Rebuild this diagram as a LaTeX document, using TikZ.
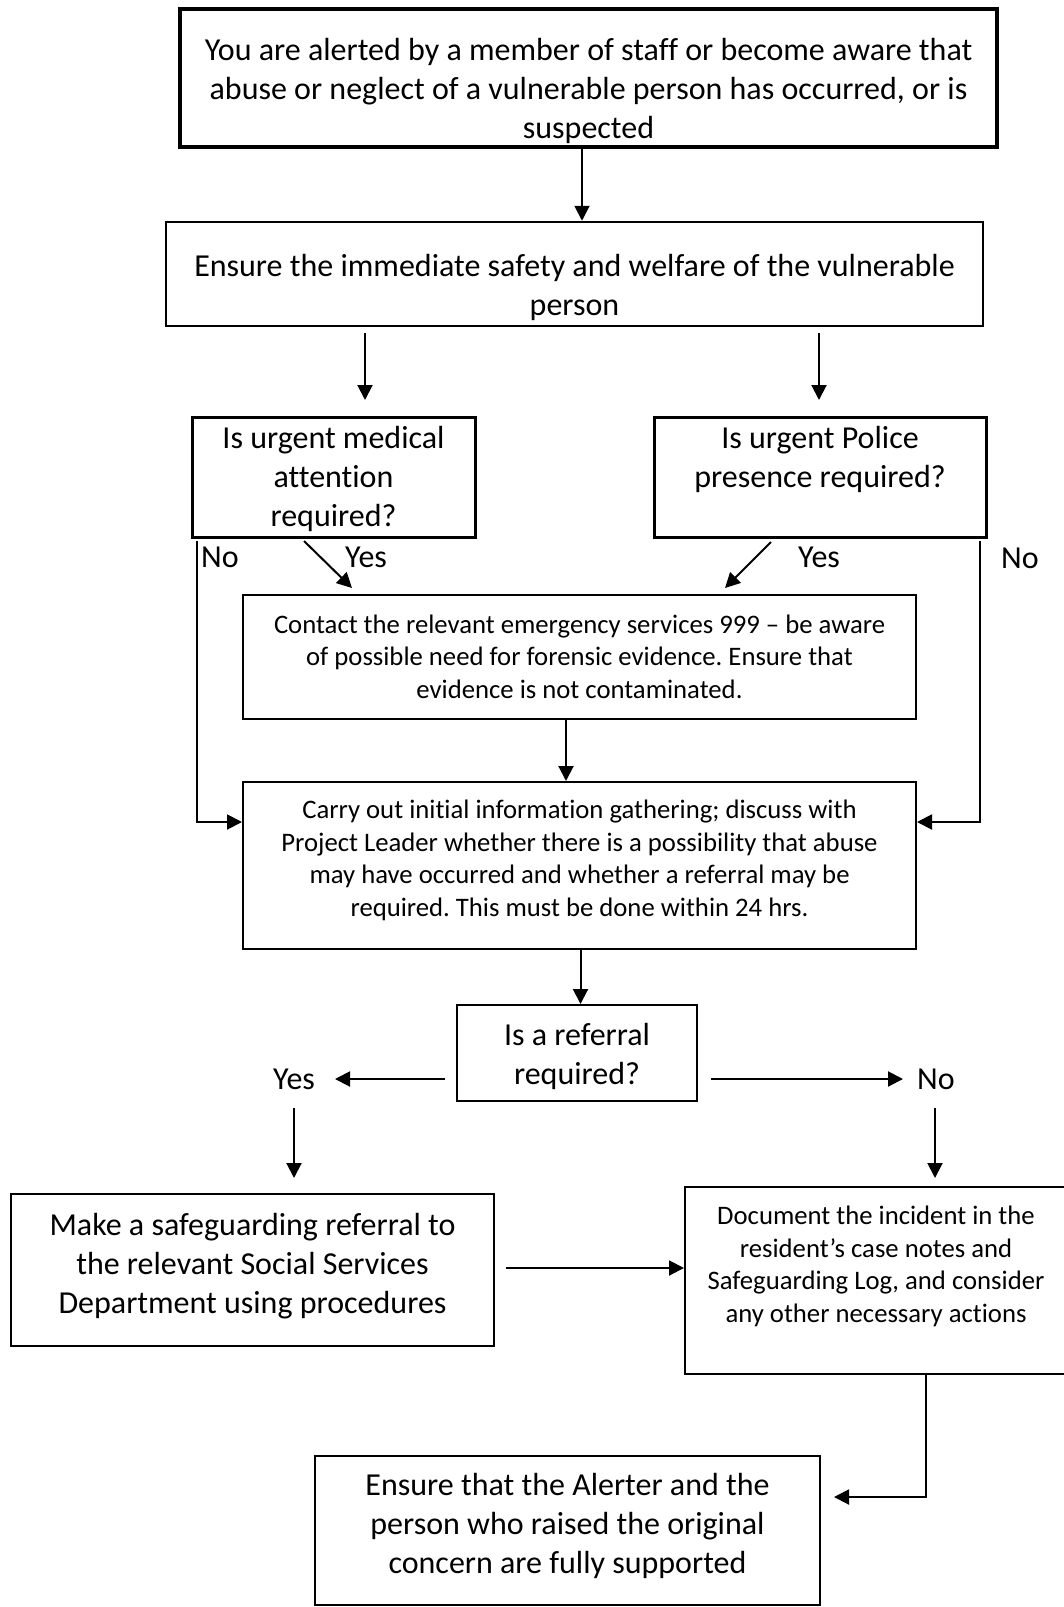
\documentclass[tikz,border=0pt]{standalone}
\usepackage{fontspec}
\setmainfont{Carlito}[Ligatures={NoCommon,NoRare,NoContextual}]
\usetikzlibrary{arrows.meta}
\frenchspacing
\newcommand\fbig{\fontsize{32}{39}\selectfont}
\newcommand\fsmall{\fontsize{26.7}{32.5}\selectfont}
\newcommand\bxbig[4]{\parbox[c][#2][t]{#1}{\fbig\frenchspacing\centering\vspace*{#3}\strut #4}}
\newcommand\bxsmall[4]{\parbox[c][#2][t]{#1}{\fsmall\frenchspacing\centering\vspace*{#3}\strut #4}}
\tikzset{
  box/.style={draw, inner sep=0pt, line width=2pt},
  thickbox/.style={box, line width=4pt},
  qbox/.style={box, line width=3pt},
  arr/.style={line width=2pt, -{Triangle[length=15pt,width=15pt]}},
  thinarr/.style={line width=2pt, -{Triangle[length=15pt,width=15pt]}},
  lbl/.style={anchor=base west, inner sep=0pt, font=\fbig},
}
\begin{document}
\begin{tikzpicture}[x=1pt,y=-1pt]
\useasboundingbox (0,0) rectangle (1064,1607);
\fill[white] (0,0) rectangle (1064,1607);

% boxes
\node[thickbox] (b1) at (588.5,78) {\bxbig{817pt}{138pt}{23.7pt}{You are alerted by a member of staff or become aware that\\abuse or neglect of a vulnerable person has occurred, or is\\suspected}};
\node[box, line width=2.5pt] (b2) at (574.5,274) {\bxbig{817pt}{104pt}{27.5pt}{Ensure the immediate safety and welfare of the vulnerable\\person}};
\node[qbox] (b3) at (333.5,477) {\bxbig{283pt}{120pt}{4.5pt}{Is urgent medical\\attention\\required?}};
\node[qbox] (b4) at (820,477) {\bxbig{332pt}{120pt}{4.5pt}{Is urgent Police\\presence required?}};
\node[box, line width=1.8pt] (b5) at (579.5,657) {\bxsmall{673pt}{124pt}{15.25pt}{Contact the relevant emergency services 999 – be aware\\of possible need for forensic evidence. Ensure that\\evidence is not contaminated.}};
\node[box] (b6) at (579.5,865.5) {\bxsmall{673pt}{167pt}{13.75pt}{Carry out initial information gathering; discuss with\\Project Leader whether there is a possibility that abuse\\may have occurred and whether a referral may be\\required. This must be done within 24 hrs.}};
\node[box] (b7) at (577,1053) {\bxbig{240pt}{96pt}{13.5pt}{Is a referral\\required?}};
\node[box] (b8) at (252.5,1270) {\bxbig{483pt}{152pt}{13.7pt}{Make a safeguarding referral to\\the relevant Social Services\\Department using procedures}};
\node[box] (b9) at (876,1280.5) {\bxsmall{382pt}{187pt}{14.75pt}{Document the incident in the\\resident’s case notes and\\Safeguarding Log, and consider\\any other necessary actions}};
\node[box] (b10) at (567.5,1530.5) {\bxbig{505pt}{149pt}{12.5pt}{Ensure that the Alerter and the\\person who raised the original\\concern are fully supported}};

% labels
\node[lbl] (lno1) at (201,567) {No};
\node[lbl] (lyes1) at (345,567) {Yes};
\node[lbl] (lyes2) at (798,567) {Yes};
\node[lbl] (lno2) at (1001,568) {No};
\node[lbl] (lyes3) at (273,1089) {Yes};
\node[lbl] (lno3) at (917,1089) {No};

% coordinates
\coordinate (c1) at (582,0);
\coordinate (m1s) at (365,333);
\coordinate (m1e) at (365,400);
\coordinate (p1s) at (819,333);
\coordinate (p1e) at (819,400);
\coordinate (dl1) at (304,541);
\coordinate (dl2) at (352,588);
\coordinate (dr1) at (771,542);
\coordinate (dr2) at (725,588);
\coordinate (nl1) at (197,541);
\coordinate (nl2) at (197,822);
\coordinate (nr1) at (980,541);
\coordinate (nr2) at (980,822);
\coordinate (c2) at (566,0);
\coordinate (c3) at (580.5,0);
\coordinate (ry) at (0,1079);
\coordinate (ys) at (335,1079);
\coordinate (ns) at (903,1079);
\coordinate (yd1) at (294,1108);
\coordinate (nd1) at (935,1108);
\coordinate (c4) at (0,1268);
\coordinate (c5) at (926,0);
\coordinate (c6) at (0,1497);

% connectors
\draw[arr] (b1.south -| c1) -- (b2.north -| c1);
\draw[arr] (m1s) -- (m1e);
\draw[arr] (p1s) -- (p1e);
\draw[arr] (dl1) -- (dl2);
\draw[arr] (dr1) -- (dr2);
\draw[thinarr] (nl1) -- (nl2) -- (b6.west |- nl2);
\draw[thinarr] (nr1) -- (nr2) -- (b6.east |- nr2);
\draw[arr] (b5.south -| c2) -- (b6.north -| c2);
\draw[arr] (b6.south -| c3) -- (b7.north -| c3);
\draw[arr, shorten <=11pt] (b7.west |- ry) -- (ys);
\draw[arr, shorten <=13pt] (b7.east |- ry) -- (ns);
\draw[arr, shorten >=15pt] (yd1) -- (b8.north -| yd1);
\draw[arr, shorten >=8pt] (nd1) -- (b9.north -| nd1);
\draw[arr, shorten <=11pt] (b8.east |- c4) -- (b9.west |- c4);
\draw[arr, shorten >=13pt] (b9.south -| c5) |- (b10.east |- c6);
\end{tikzpicture}
\end{document}
